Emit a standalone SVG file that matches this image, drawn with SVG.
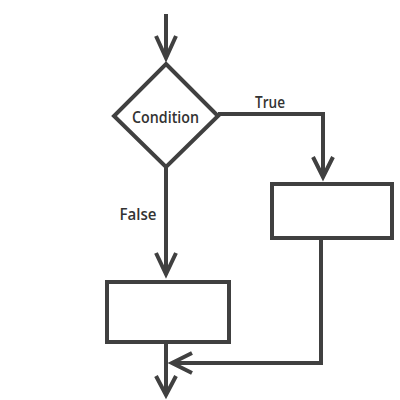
<svg xmlns="http://www.w3.org/2000/svg" width="400" height="400" viewBox="0 0 400 400">
<style>
.ln{fill:none;stroke:#404040;stroke-width:4;stroke-linejoin:miter;stroke-linecap:butt}
.ah{fill:none;stroke:#404040;stroke-width:4;stroke-linejoin:miter}
.sh{fill:#fff;stroke:#404040;stroke-width:4}
.t{font-family:"Open Sans","Liberation Sans",sans-serif;font-weight:600;font-size:17px;fill:#333;text-anchor:middle}
</style>
<rect width="400" height="400" fill="#fff"/>
<g id="connectors">
<path class="ln" d="M166,14 V58"/>
<path class="ah" d="M156,36 L166,58 L176,36"/>
<path class="ln" d="M166,167 V274"/>
<path class="ah" d="M156,253 L166,274 L176,253"/>
<path class="ln" d="M218,114 H323 V177"/>
<path class="ah" d="M313,157 L323,177 L333,157"/>
<path class="ln" d="M321,238 V363 H172"/>
<path class="ah" d="M192,353 L172,363 L192,373"/>
<path class="ln" d="M166,343 V395"/>
<path class="ah" d="M156,376 L166,395 L176,376"/>
</g>
<g id="condition">
<polygon class="sh" points="166,64 218,116 166,167 114,116"/>
<text class="t" x="165.5" y="123" textLength="67" lengthAdjust="spacingAndGlyphs">Condition</text>
</g>
<g id="true-label"><text class="t" x="270" y="108" textLength="30" lengthAdjust="spacingAndGlyphs">True</text></g>
<g id="false-label"><text class="t" x="138" y="220" textLength="37" lengthAdjust="spacingAndGlyphs">False</text></g>
<g id="process-true"><rect class="sh" x="272" y="184" width="120" height="54"/></g>
<g id="process-false"><rect class="sh" x="107" y="282" width="122" height="60"/></g>
</svg>
